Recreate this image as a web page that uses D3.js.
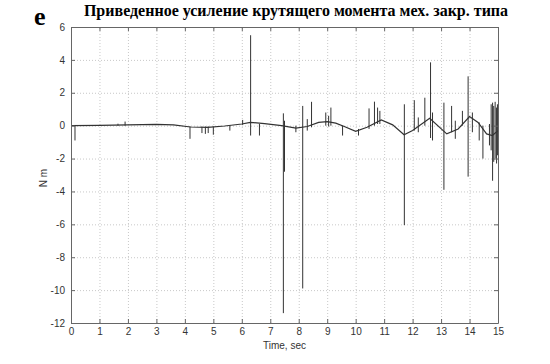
<!DOCTYPE html>
<meta charset="utf-8">
<style>
body { margin: 0; background: #fff; }
.grid line { stroke: #c8c8c8; stroke-dasharray: 1,2; }
.grid path { display: none; }
.axis text { font-family: "Liberation Sans", Arial, sans-serif; font-size: 10px; fill: #333; }
.axis line, .axis path { stroke: #666; }
</style>
<svg width="550" height="364"></svg>
<script src="https://cdnjs.cloudflare.com/ajax/libs/d3/7.8.5/d3.min.js"></script>
<script>

// slow wave under the signal (time, value)
var baseT = [0, 1, 2, 3, 3.6, 4.2, 4.8, 5.4, 6.0, 6.3, 6.8, 7.4, 7.9, 8.3, 8.7, 9.0, 9.3, 9.6, 10.0, 10.4, 10.9, 11.3, 11.7, 12.0, 12.6, 13.2, 13.6, 14.0, 14.3, 14.6, 14.8, 15];
var baseV = [0, 0.02, 0.05, 0.08, 0.05, -0.08, -0.1, -0.02, 0.1, 0.2, 0.12, 0.0, -0.15, -0.05, 0.2, 0.25, 0.15, -0.05, -0.35, -0.1, 0.35, 0.05, -0.55, -0.3, 0.45, -0.5, -0.2, 0.55, 0.2, -0.5, -0.6, -0.3];

// spikes: time, top, bottom
var spikeT  = [0.14, 1.65, 1.9, 4.18, 4.6, 4.72, 4.82, 5.0, 5.58, 6.03, 6.31, 6.62, 7.46, 7.5, 7.9, 8.14, 8.3, 8.45, 8.95, 9.05, 9.13, 9.54, 10.1, 10.47, 10.66, 10.77, 10.85, 11.71, 12.06, 12.2, 12.43, 12.63, 12.7, 13.1, 13.37, 13.5, 13.75, 13.95, 14.1, 14.34, 14.47, 14.7, 14.76, 14.81, 14.85, 14.9, 14.95, 14.98];
var spikeHi = [0.02, 0.12, 0.25, -0.05, -0.05, -0.05, -0.05, -0.05, 0.0, 0.35, 5.5, 0.1, 0.75, 0.3, 0.0, 1.2, 0.4, 1.45, 0.8, 0.6, 1.1, 0.0, -0.2, 1.05, 1.46, 1.1, 0.9, 1.3, 1.55, 0.5, 1.7, 3.85, 0.8, 1.4, 1.2, 0.3, 0.9, 3.0, 0.8, 0.2, 0.0, 0.1, 1.3, 1.4, 1.2, 1.45, 1.1, 1.3];
var spikeLo = [-0.9, 0.0, 0.0, -0.8, -0.45, -0.5, -0.45, -0.55, -0.3, 0.05, -0.6, -0.6, -11.4, -2.8, -0.4, -9.9, -0.3, -0.1, 0.0, -0.05, 0.0, -0.6, -0.6, -0.2, 0.0, 0.1, 0.1, -6.05, -0.3, -0.4, 0.0, -0.75, -0.9, -3.9, -0.4, -0.8, 0.0, -3.1, -0.4, -0.9, -2.0, -1.2, -1.5, -3.35, -2.2, -2.0, -2.3, -1.8];

var xTicks = d3.range(0, 16, 1);
var yTicks = [-12, -10, -8, -6, -4, -2, 0, 2, 4, 6];

var svg = d3.select("svg"),
    margin = {top: 27, right: 52, bottom: 41, left: 71},
    width = 550 - margin.left - margin.right,
    height = 364 - margin.top - margin.bottom;

var g = svg.append("g")
    .attr("transform", "translate(" + margin.left + "," + margin.top + ")");

var x = d3.scaleLinear().domain([0, 15]).range([0, width]);
var y = d3.scaleLinear().domain([-12, 6]).range([height, 0]);

// dotted grid
g.append("g").attr("class", "grid")
    .attr("transform", "translate(0," + height + ")")
    .call(d3.axisBottom(x).tickValues(xTicks).tickSize(-height).tickFormat(""));
g.append("g").attr("class", "grid")
    .call(d3.axisLeft(y).tickValues(yTicks).tickSize(-width).tickFormat(""));

// signal
var line = d3.line()
    .x(function(d, i) { return x(baseT[i]); })
    .y(function(d) { return y(d); });

g.append("path")
    .datum(baseV)
    .attr("fill", "none")
    .attr("stroke", "#333")
    .attr("stroke-width", 1.2)
    .attr("d", line);

g.append("g")
  .selectAll("line")
  .data(spikeT)
  .enter().append("line")
    .attr("x1", function(d) { return x(d); })
    .attr("x2", function(d) { return x(d); })
    .attr("y1", function(d, i) { return y(spikeHi[i]); })
    .attr("y2", function(d, i) { return y(spikeLo[i]); })
    .attr("stroke", "#333")
    .attr("stroke-width", 1);

// axes with inward ticks
var bottom = g.append("g").attr("class", "axis")
    .attr("transform", "translate(0," + height + ")")
    .call(d3.axisBottom(x).tickValues(xTicks).tickSizeInner(-4).tickSizeOuter(0).tickPadding(5));
var left = g.append("g").attr("class", "axis")
    .call(d3.axisLeft(y).tickValues(yTicks).tickSizeInner(-4).tickSizeOuter(0).tickPadding(6));
g.append("g").attr("class", "axis")
    .call(d3.axisTop(x).tickValues(xTicks).tickSizeInner(-4).tickSizeOuter(0).tickFormat(""))
    .select(".domain").attr("stroke", "#ddd");
g.append("g").attr("class", "axis")
    .attr("transform", "translate(" + width + ",0)")
    .call(d3.axisRight(y).tickValues(yTicks).tickSizeInner(-4).tickSizeOuter(0).tickFormat(""));

left.selectAll(".tick text").text(function(d) { return d < 0 ? "-" + Math.abs(d) : d; });

// labels
g.append("text")
    .attr("x", width / 2)
    .attr("y", height + 26)
    .attr("text-anchor", "middle")
    .style("font-family", "Liberation Sans, Arial, sans-serif")
    .style("font-size", "10px")
    .attr("fill", "#333")
    .text("Time, sec");

g.append("text")
    .attr("transform", "translate(-24," + (height / 2 + 3) + ") rotate(-90)")
    .attr("text-anchor", "middle")
    .style("font-family", "Liberation Sans, Arial, sans-serif")
    .style("font-size", "10px")
    .attr("fill", "#333")
    .text("N m");

svg.append("text")
    .attr("x", 296)
    .attr("y", 16)
    .attr("text-anchor", "middle")
    .style("font-family", "Liberation Serif, Times New Roman, serif")
    .style("font-weight", "bold")
    .style("font-size", "16px")
    .text("Приведенное усиление крутящего момента мех. закр. типа");

svg.append("text")
    .attr("x", 34)
    .attr("y", 25)
    .style("font-family", "Liberation Serif, Times New Roman, serif")
    .style("font-weight", "bold")
    .style("font-size", "26px")
    .text("e");

</script>
